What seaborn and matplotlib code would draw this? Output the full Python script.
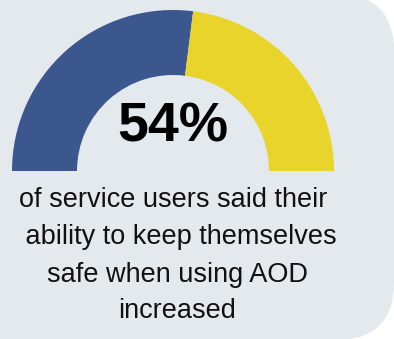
import matplotlib
matplotlib.use("Agg")
import matplotlib.pyplot as plt
from matplotlib.patches import FancyBboxPatch
import seaborn as sns

# --- Data ---
value_pct = 54
gauge_parts = [value_pct, 100 - value_pct]
gauge_colors = ["#3b578d", "#e8d42b"]
big_label = f"{value_pct}%"
caption_lines = ["of service users said their ", " ability to keep themselves",
                 "safe when using AOD", "increased"]

W, H = 394, 339
sns.set_theme(style="white")
plt.rcParams["font.family"] = ["Liberation Sans", "DejaVu Sans"]

fig = plt.figure(figsize=(W / 100, H / 100), dpi=100, facecolor="white")
ax = fig.add_axes([0, 0, 1, 1])

# card background with rounded corners on the right
card = FancyBboxPatch((-200, -1), 594, 346, boxstyle="round,pad=0,rounding_size=58",
                      facecolor="#e4e9ed", edgecolor="none", zorder=0)
ax.add_patch(card)

# half donut gauge: values plus an invisible bottom half
cx, cy, r_out, r_in = 173, H - 171, 161, 96
ax.pie(gauge_parts + [100], colors=gauge_colors + ["none"], startangle=180,
       counterclock=False, center=(cx, cy), radius=r_out, frame=True,
       wedgeprops=dict(width=r_out - r_in, linewidth=0))
ax.set_xlim(0, W)
ax.set_ylim(0, H)
ax.set_aspect("equal")
ax.axis("off")

ax.text(cx, H - 142, big_label, ha="center", va="baseline", fontsize=40,
        fontweight="bold", color="black", zorder=5)

baselines = [207, 244, 282, 318]
for line, yb in zip(caption_lines, baselines):
    ax.text(177, H - yb, line, ha="center", va="baseline", fontsize=19.5,
            color="#111111", zorder=5)

fig.savefig("out.png", dpi=100, facecolor="white")
